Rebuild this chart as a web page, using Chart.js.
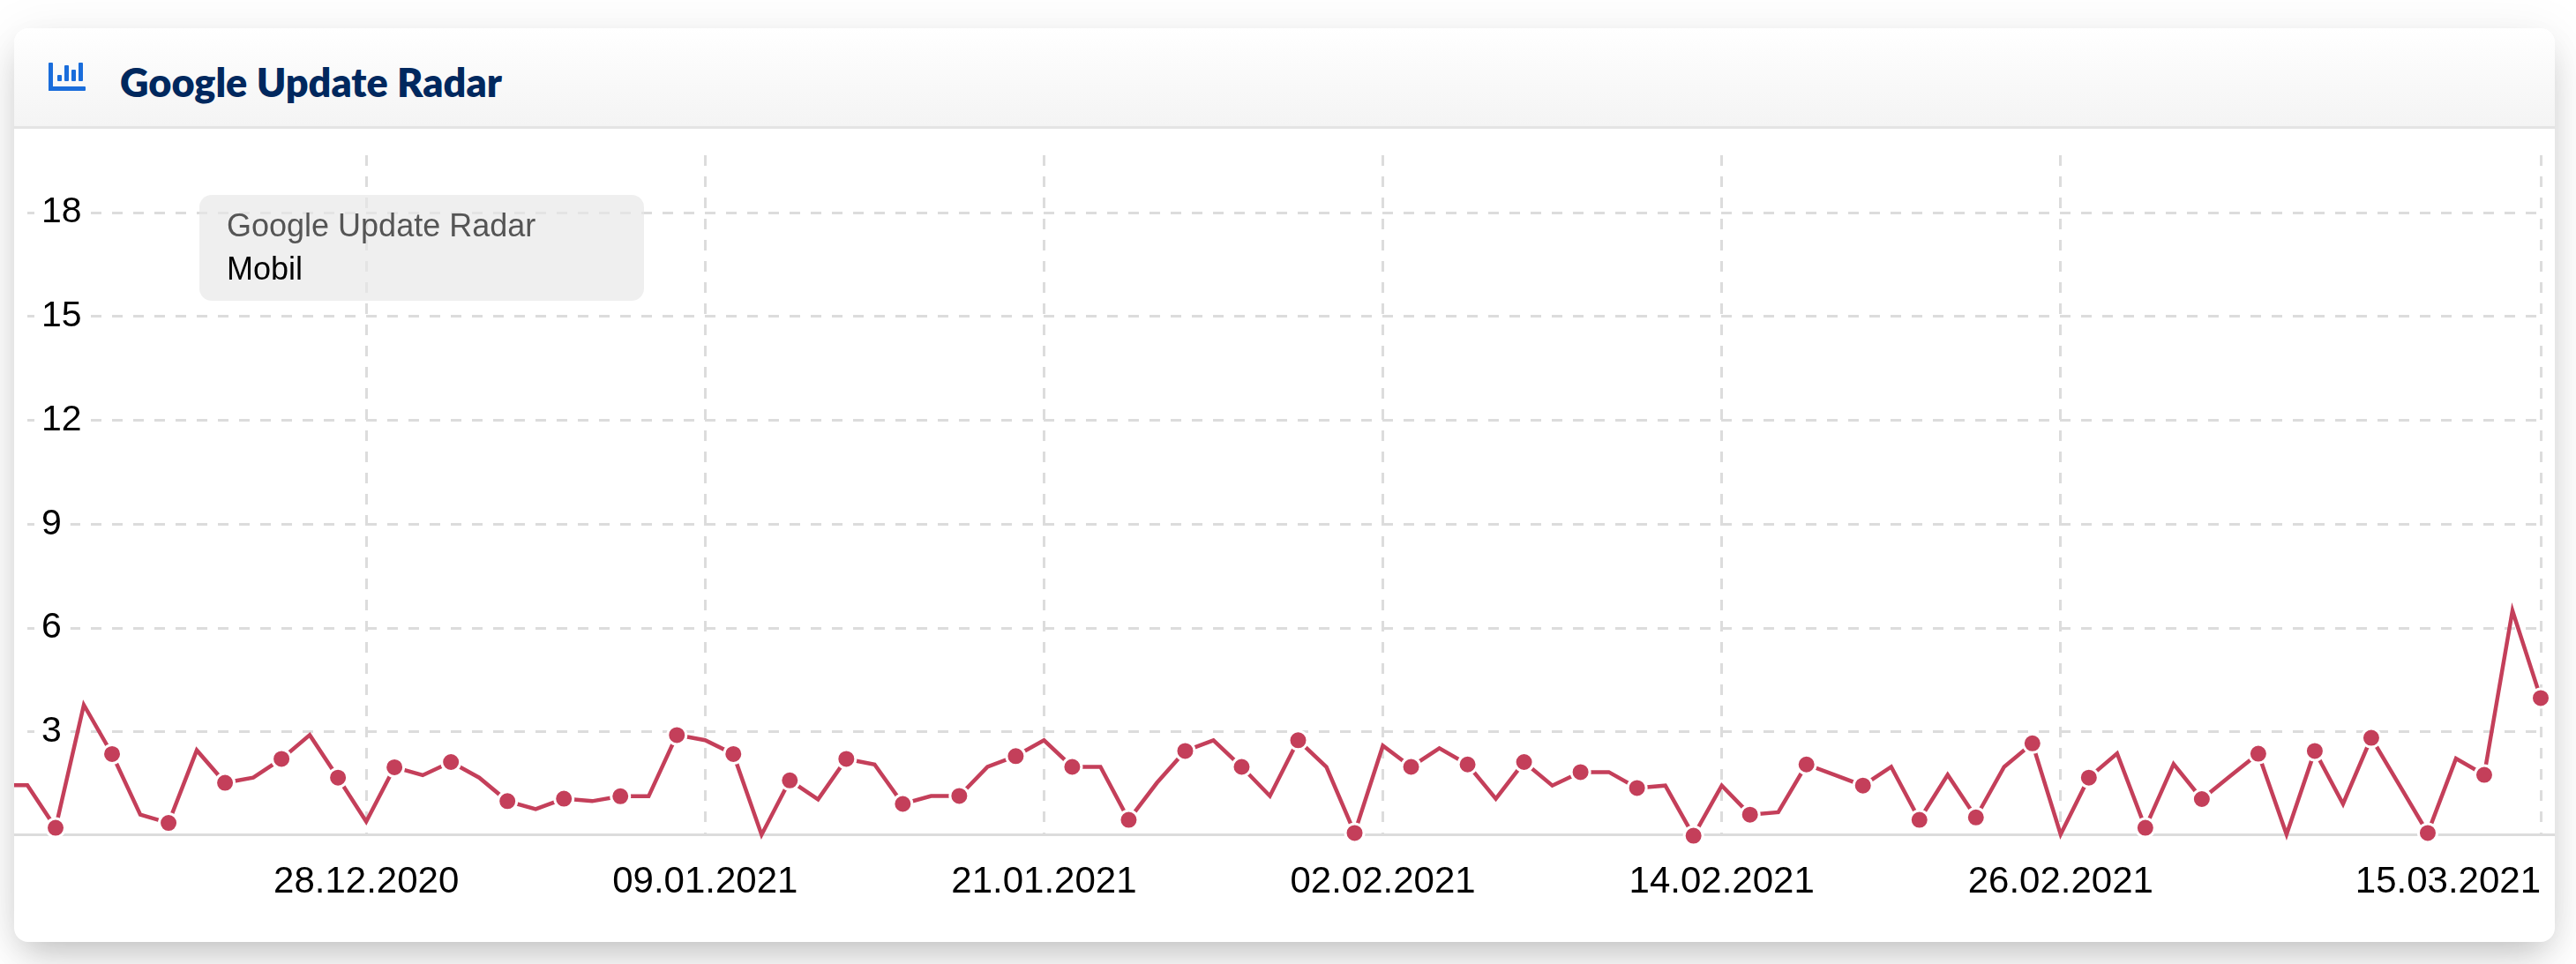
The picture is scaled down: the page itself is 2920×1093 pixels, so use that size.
<!DOCTYPE html>
<html>
<head>
<meta charset="utf-8">
<title>Google Update Radar</title>
<script src="https://cdn.jsdelivr.net/npm/chart.js@4/dist/chart.umd.min.js"></script>
<style>
  html, body { margin: 0; padding: 0; background: #fff; width: 2920px; height: 1093px; overflow: hidden; }
  .card { position: absolute; left: 16px; top: 32px; width: 2880px; height: 1036px; background: #fff;
    border-radius: 16px; overflow: hidden;
    box-shadow: 0 20px 40px -10px rgba(0,0,0,.22), 0 8px 60px rgba(0,0,0,.08); }
  .head { position: absolute; left: 0; top: 0; width: 100%; height: 111px; border-bottom: 3px solid #e4e4e4;
    background: linear-gradient(#fff, #f4f4f4); }
  .head svg { position: absolute; left: 39px; top: 39px; }
  .head h2 { position: absolute; left: 120px; top: 34px; margin: 0; font: 800 45px Lato, sans-serif; color: #00285e; white-space: nowrap; }
  .base { position: absolute; left: 0; top: 913px; width: 100%; height: 3px; background: #dcdcdc; }
  canvas { position: absolute; left: 0; top: 114px; }
  .note { position: absolute; left: 210px; top: 189px; width: 504px; height: 120px; border-radius: 14px;
    background: rgba(232,232,232,.68); font: 36px "Liberation Sans", Arial, sans-serif; }
  .note div { position: absolute; left: 31px; white-space: nowrap; }
</style>
</head>
<body>
<div class="card">
  <div class="head">
    <svg width="44" height="34" viewBox="0 0 44 34"><g fill="#1a6ddb">
      <rect x="0" y="0" width="5" height="32" rx="1"/><rect x="0" y="27" width="42" height="5" rx="1"/>
      <rect x="10" y="14" width="5" height="7" rx="1"/><rect x="18" y="3" width="5" height="18" rx="1"/>
      <rect x="26" y="8" width="5" height="13" rx="1"/><rect x="34" y="0" width="5" height="21" rx="1"/></g></svg>
    <h2>Google Update Radar</h2>
  </div>
  <div class="base"></div>
  <canvas id="radar" width="2880" height="922"></canvas>
  <div class="note">
    <div style="top:14px;color:#555">Google Update Radar</div>
    <div style="top:63px;color:#000">Mobil</div>
  </div>
</div>
<script>
const days = [
  "15.12.2020","16.12.2020","17.12.2020","18.12.2020","19.12.2020","20.12.2020","21.12.2020","22.12.2020","23.12.2020","24.12.2020",
  "25.12.2020","26.12.2020","27.12.2020","28.12.2020","29.12.2020","30.12.2020","31.12.2020","01.01.2021","02.01.2021","03.01.2021",
  "04.01.2021","05.01.2021","06.01.2021","07.01.2021","08.01.2021","09.01.2021","10.01.2021","11.01.2021","12.01.2021","13.01.2021",
  "14.01.2021","15.01.2021","16.01.2021","17.01.2021","18.01.2021","19.01.2021","20.01.2021","21.01.2021","22.01.2021","23.01.2021",
  "24.01.2021","25.01.2021","26.01.2021","27.01.2021","28.01.2021","29.01.2021","30.01.2021","31.01.2021","01.02.2021","02.02.2021",
  "03.02.2021","04.02.2021","05.02.2021","06.02.2021","07.02.2021","08.02.2021","09.02.2021","10.02.2021","11.02.2021","12.02.2021",
  "13.02.2021","14.02.2021","15.02.2021","16.02.2021","17.02.2021","18.02.2021","19.02.2021","20.02.2021","21.02.2021","22.02.2021",
  "23.02.2021","24.02.2021","25.02.2021","26.02.2021","27.02.2021","28.02.2021","01.03.2021","02.03.2021","03.03.2021","04.03.2021",
  "05.03.2021","06.03.2021","07.03.2021","08.03.2021","09.03.2021","10.03.2021","11.03.2021","12.03.2021","13.03.2021","14.03.2021",
  "15.03.2021","16.03.2021"
];
const mobil = [
  1.46,1.46,0.23,3.78,2.36,0.61,0.37,2.47,1.53,1.68,
  2.22,2.91,1.68,0.41,1.98,1.75,2.13,1.68,1.00,0.77,
  1.07,1.00,1.14,1.14,2.91,2.76,2.36,0.03,1.60,1.05,
  2.22,2.06,0.92,1.15,1.15,1.99,2.30,2.76,1.99,1.99,
  0.46,1.53,2.45,2.76,1.99,1.15,2.76,1.99,0.08,2.60,
  1.99,2.53,2.06,1.07,2.13,1.45,1.84,1.84,1.38,1.45,
  0.00,1.45,0.61,0.68,2.06,1.76,1.45,1.99,0.46,1.76,
  0.53,1.99,2.67,0.04,1.68,2.38,0.23,2.07,1.06,1.72,
  2.37,0.04,2.45,0.92,2.83,1.46,0.08,2.23,1.76,6.50,
  3.98,3.98
];
const xTicks = ["28.12.2020","09.01.2021","21.01.2021","02.02.2021","14.02.2021","26.02.2021","15.03.2021"];
const yTicks = [3, 6, 9, 12, 15, 18];

const gridColor = '#dcdcdc';
const lineColor = '#c43f5a';

// the last date label ends at its grid line so it stays inside the card
const shiftLastLabel = {
  id: 'shiftLastLabel',
  afterUpdate(chart) {
    const items = chart.scales.x.getLabelItems();
    items[items.length - 1].options.textAlign = 'right';
  }
};

new Chart(document.getElementById('radar'), {
  type: 'line',
  data: {
    labels: days,
    datasets: [{
      label: 'Mobil',
      data: mobil,
      clip: false,
      borderColor: lineColor,
      borderWidth: 4.5,
      borderJoinStyle: 'miter',
      tension: 0,
      pointBackgroundColor: lineColor,
      pointBorderColor: '#fff',
      pointBorderWidth: 3,
      pointRadius: ctx => ctx.dataIndex % 2 === 0 ? 10.5 : 0
    }]
  },
  plugins: [shiftLastLabel],
  options: {
    responsive: false,
    animation: false,
    layout: { padding: { left: 15, right: 16, top: 30, bottom: 14 } },
    plugins: { legend: { display: false }, tooltip: { enabled: false } },
    scales: {
      x: {
        type: 'category',
        min: "16.12.2020",
        max: "15.03.2021",
        afterBuildTicks: scale => {
          scale.ticks = scale.ticks.filter(t => xTicks.includes(days[t.value]));
        },
        afterFit: scale => { scale.paddingLeft = 0; scale.paddingRight = 0; },
        grid: { color: gridColor, lineWidth: 3, drawTicks: false },
        border: { display: false, dash: [12, 12] },
        ticks: {
          autoSkip: false,
          maxRotation: 0,
          padding: 28,
          color: '#000',
          font: { family: '"Liberation Sans"', size: 42 }
        }
      },
      y: {
        min: 0,
        max: 19.66,
        afterBuildTicks: scale => { scale.ticks = yTicks.map(v => ({ value: v })); },
        afterFit: scale => { scale.width = 0; scale.paddingTop = 0; scale.paddingBottom = 0; },
        grid: { color: gridColor, lineWidth: 3, drawTicks: false },
        border: { display: false, dash: [12, 12] },
        ticks: {
          mirror: true,
          padding: 16,
          color: '#000',
          font: { family: '"Liberation Sans"', size: 41 },
          showLabelBackdrop: true,
          backdropColor: '#fff',
          backdropPadding: { left: 8, right: 10, top: 0, bottom: 0 }
        }
      }
    }
  }
});
</script>
</body>
</html>
